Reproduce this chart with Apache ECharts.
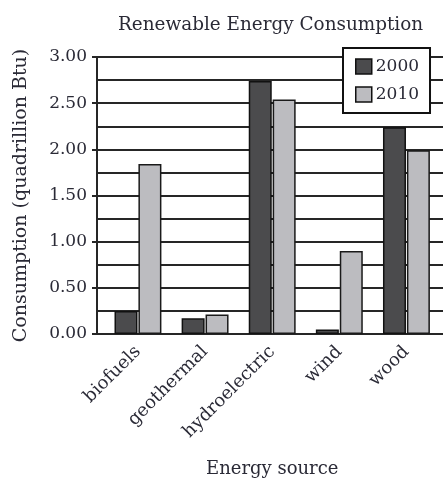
<!DOCTYPE html>
<html>
<head>
<meta charset="utf-8">
<script src="https://cdn.jsdelivr.net/npm/echarts@6/dist/echarts.min.js"></script>
<style>
html,body{margin:0;padding:0;background:#fff;}
#chart{width:443px;height:479px;}
</style>
</head>
<body>
<div id="chart"></div>
<script>
const categories = ['biofuels', 'geothermal', 'hydroelectric', 'wind', 'wood'];
const seriesNames = ['2000', '2010'];
const values2000 = [0.25, 0.17, 2.74, 0.05, 2.24];
const values2010 = [1.84, 0.21, 2.54, 0.90, 1.99];
const yTicks = ['0.00', '0.50', '1.00', '1.50', '2.00', '2.50', '3.00'];

const FONT = 'DejaVu Serif';
const TXT = '#2a2a36';
const LINE = '#262626';

const chart = echarts.init(document.getElementById('chart'), null, {renderer: 'canvas'});
chart.setOption({
  backgroundColor: '#fff',
  animation: false,
  title: {
    text: 'Renewable Energy Consumption',
    left: 113, top: 11,
    textStyle: {fontFamily: FONT, fontSize: 18.4, fontWeight: 'normal', color: TXT}
  },
  legend: {
    orient: 'vertical',
    left: 343, top: 48,
    padding: [10, 11, 10, 12],
    itemGap: 11,
    itemWidth: 16, itemHeight: 15,
    backgroundColor: '#fff',
    borderColor: '#111', borderWidth: 2,
    icon: 'rect',
    itemStyle: {borderColor: '#111', borderWidth: 1.5},
    textStyle: {fontFamily: FONT, fontSize: 17, color: TXT, padding: [0, 0, 0, -1]},
    data: seriesNames
  },
  grid: [
    {left: 97, top: 57, width: 370, height: 277, outerBoundsMode: 'none', containLabel: false},
    {left: 104.4, top: 57, width: 335.6, height: 277, outerBoundsMode: 'none', containLabel: false}
  ],
  xAxis: [
    {
      gridIndex: 0, type: 'value', min: 0, max: 1,
      axisLine: {show: true, lineStyle: {color: LINE, width: 2}},
      axisTick: {show: false}, axisLabel: {show: false}, splitLine: {show: false}
    },
    {
      gridIndex: 1, type: 'category', data: categories,
      axisLine: {show: false}, axisTick: {show: false},
      axisLabel: {rotate: 45, margin: 15, fontFamily: FONT, fontSize: 18, color: TXT},
      name: 'Energy source', nameLocation: 'middle', nameGap: 126,
      nameTextStyle: {fontFamily: FONT, fontSize: 18, color: TXT}
    }
  ],
  yAxis: [
    {
      gridIndex: 0, type: 'value', min: 0, max: 3, interval: 0.5,
      axisLine: {show: true, lineStyle: {color: LINE, width: 2}},
      axisTick: {show: true, length: 5, lineStyle: {color: LINE, width: 2}},
      minorTick: {show: false, splitNumber: 2},
      splitLine: {show: true, lineStyle: {color: LINE, width: 2}},
      minorSplitLine: {show: true, lineStyle: {color: LINE, width: 2}},
      axisLabel: {
        margin: 10, fontFamily: FONT, fontSize: 17, color: TXT,
        formatter: function (v) { return yTicks[Math.round(v / 0.5)]; }
      },
      name: 'Consumption (quadrillion Btu)', nameLocation: 'middle', nameGap: 66,
      nameTextStyle: {fontFamily: FONT, fontSize: 19, color: TXT}
    },
    {
      gridIndex: 1, type: 'value', min: 0, max: 3, show: false
    }
  ],
  series: [
    {
      name: seriesNames[0], type: 'bar', xAxisIndex: 1, yAxisIndex: 1,
      data: values2000, barWidth: 23, barGap: '4%',
      itemStyle: {color: '#4b4b4d', borderColor: '#111', borderWidth: 1.5}
    },
    {
      name: seriesNames[1], type: 'bar', xAxisIndex: 1, yAxisIndex: 1,
      data: values2010, barWidth: 23, barGap: '4%',
      itemStyle: {color: '#bcbcc0', borderColor: '#1a1a1a', borderWidth: 1.5}
    }
  ]
});
</script>
</body>
</html>
